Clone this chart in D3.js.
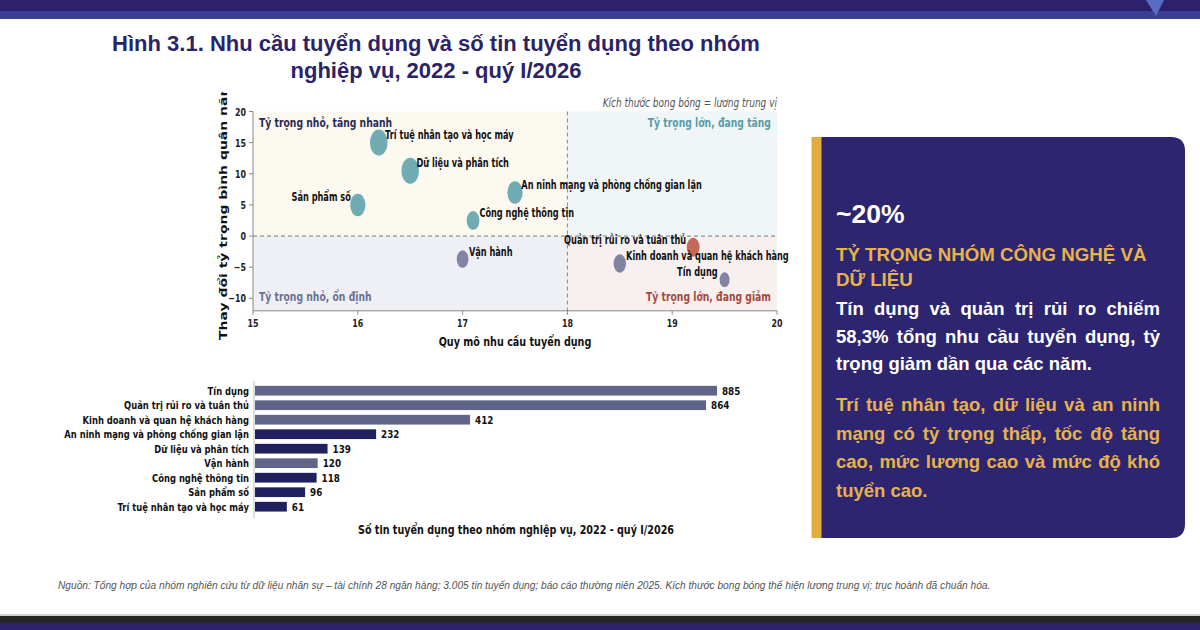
<!DOCTYPE html>
<html>
<head>
<meta charset="utf-8">
<script src="https://cdn.jsdelivr.net/npm/d3@7"></script>
<style>
  body { margin: 0; background: #fff; }
  svg { display: block; }
  .dv { font-family: "DejaVu Sans", sans-serif; font-weight: bold; }
  .ar { font-family: "Liberation Sans", Arial, sans-serif; font-weight: bold; }
</style>
</head>
<body>
<svg id="chart" width="1200" height="630"></svg>
<script>
// ---- bubble chart data ----
const groups = ["Trí tuệ nhân tạo và học máy", "Dữ liệu và phân tích", "An ninh mạng và phòng chống gian lận",
  "Sản phẩm số", "Công nghệ thông tin", "Vận hành", "Quản trị rủi ro và tuân thủ",
  "Kinh doanh và quan hệ khách hàng", "Tín dụng"];
const demandSize = [16.2, 16.5, 17.5, 16.0, 17.1, 17.0, 19.2, 18.5, 19.5];
const shareChange = [15, 10.5, 7, 5, 2.5, -3.7, -1.8, -4.4, -7];
const medianSalary = [40, 40, 30, 30, 21, 18, 21, 20, 13];
const groupType = ["tech", "tech", "tech", "tech", "tech", "core", "risk", "core", "core"];
const xTicks = [15, 16, 17, 18, 19, 20];
const yTicks = [-10, -5, 0, 5, 10, 15, 20];
const quadrantLabels = ["Tỷ trọng nhỏ, tăng nhanh", "Tỷ trọng lớn, đang tăng", "Tỷ trọng nhỏ, ổn định", "Tỷ trọng lớn, đang giảm"];

// ---- bar chart data ----
const barGroups = ["Tín dụng", "Quản trị rủi ro và tuân thủ", "Kinh doanh và quan hệ khách hàng",
  "An ninh mạng và phòng chống gian lận", "Dữ liệu và phân tích", "Vận hành", "Công nghệ thông tin",
  "Sản phẩm số", "Trí tuệ nhân tạo và học máy"];
const postings = [885, 864, 412, 232, 139, 120, 118, 96, 61];

// ---- side panel text ----
const bigNumber = "~20%";
const headline = ["TỶ TRỌNG NHÓM CÔNG NGHỆ VÀ", "DỮ LIỆU"];
const whiteLines = ["Tín dụng và quản trị rủi ro chiếm", "58,3% tổng nhu cầu tuyển dụng, tỷ", "trọng giảm dần qua các năm."];
const goldLines = ["Trí tuệ nhân tạo, dữ liệu và an ninh", "mạng có tỷ trọng thấp, tốc độ tăng", "cao, mức lương cao và mức độ khó", "tuyển cao."];

const titleLines = ["Hình 3.1. Nhu cầu tuyển dụng và số tin tuyển dụng theo nhóm", "nghiệp vụ, 2022 - quý I/2026"];
const sourceNote = "Nguồn: Tổng hợp của nhóm nghiên cứu từ dữ liệu nhân sự – tài chính 28 ngân hàng; 3.005 tin tuyển dụng; báo cáo thường niên 2025. Kích thước bong bóng thể hiện lương trung vị; trục hoành đã chuẩn hóa.";

const svg = d3.select("#chart");
const navy = "#2d216d";

// squeezed text, the chart image is narrower than its fonts
function sqText(parent, x, y, sx, str) {
  return parent.append("text")
    .attr("transform", `translate(${x},${y}) scale(${sx},1)`)
    .text(str);
}

// top and bottom bands
svg.append("rect").attr("x", 0).attr("y", 0).attr("width", 1200).attr("height", 11).attr("fill", navy);
svg.append("rect").attr("x", 0).attr("y", 11).attr("width", 1200).attr("height", 8).attr("fill", "#383f95");
svg.append("path").attr("d", "M1146,0 L1164,0 L1156,16 Z").attr("fill", "#5a6bc4");
svg.append("rect").attr("x", 0).attr("y", 614).attr("width", 1200).attr("height", 2).attr("fill", "#cfcfcf");
svg.append("rect").attr("x", 0).attr("y", 616).attr("width", 1200).attr("height", 7).attr("fill", "#262626");
svg.append("rect").attr("x", 0).attr("y", 623).attr("width", 1200).attr("height", 7).attr("fill", navy);

// title
svg.selectAll(".title").data(titleLines).join("text")
  .attr("class", "title ar")
  .attr("x", 436).attr("y", (d, i) => 51 + i * 27)
  .attr("text-anchor", "middle")
  .attr("font-size", 22)
  .attr("fill", "#2a2466")
  .text(d => d);

// ================= bubble chart =================
const sx = 0.72;
const x = d3.scaleLinear().domain([15, 20]).range([253, 777]);
const y = d3.scaleLinear().domain([-12, 20]).range([310.8, 111.5]);
const r = d3.scaleSqrt().domain([0, 40]).range([0, 8.8]);
const bubbleColor = { tech: "#69a8b1", core: "#7a7e9e", risk: "#c2604e" };

const sc = svg.append("g");
const quads = [
  { x0: 15, x1: 18, y0: 0, y1: 20, fill: "#fcf9f1" },
  { x0: 18, x1: 20, y0: 0, y1: 20, fill: "#f0f6f7" },
  { x0: 15, x1: 18, y0: -12, y1: 0, fill: "#eff0f5" },
  { x0: 18, x1: 20, y0: -12, y1: 0, fill: "#f7f0ef" }
];
sc.selectAll(".quad").data(quads).join("rect")
  .attr("x", d => x(d.x0)).attr("y", d => y(d.y1))
  .attr("width", d => x(d.x1) - x(d.x0)).attr("height", d => y(d.y0) - y(d.y1))
  .attr("fill", d => d.fill);

sc.append("line").attr("x1", x(15)).attr("x2", x(20)).attr("y1", y(0)).attr("y2", y(0))
  .attr("stroke", "#777").attr("stroke-width", 1).attr("stroke-dasharray", "4,3");
sc.append("line").attr("x1", x(18)).attr("x2", x(18)).attr("y1", y(20)).attr("y2", y(-12))
  .attr("stroke", "#888").attr("stroke-width", 1).attr("stroke-dasharray", "4,3");

// spines
sc.append("line").attr("x1", x(15)).attr("x2", x(15)).attr("y1", y(20)).attr("y2", y(-12)).attr("stroke", "#888");
sc.append("line").attr("x1", x(15)).attr("x2", x(20)).attr("y1", y(-12)).attr("y2", y(-12)).attr("stroke", "#888");

// ticks
const yt = sc.append("g").attr("class", "dv").attr("font-size", 11).attr("fill", "#222");
yTicks.forEach(t => {
  yt.append("line").attr("x1", x(15) - 4).attr("x2", x(15)).attr("y1", y(t)).attr("y2", y(t)).attr("stroke", "#888");
  sqText(yt, x(15) - 7, y(t) + 4, sx, t < 0 ? "\u2212" + Math.abs(t) : t).attr("text-anchor", "end");
});
const xt = sc.append("g").attr("class", "dv").attr("font-size", 11).attr("fill", "#222");
xTicks.forEach(t => {
  xt.append("line").attr("x1", x(t)).attr("x2", x(t)).attr("y1", y(-12)).attr("y2", y(-12) + 4).attr("stroke", "#888");
  sqText(xt, x(t), 326.5, sx, t).attr("text-anchor", "middle");
});

// axis labels
sqText(sc, 515, 346, 0.74, "Quy mô nhu cầu tuyển dụng")
  .attr("class", "dv").attr("font-size", 13).attr("text-anchor", "middle").attr("fill", "#111");
svg.append("clipPath").attr("id", "ylab").append("rect").attr("x", 200).attr("y", 92).attr("width", 40).attr("height", 260);
sc.append("g").attr("clip-path", "url(#ylab)").append("text")
  .attr("class", "dv").attr("font-size", 14).attr("fill", "#111").attr("text-anchor", "middle")
  .attr("transform", `translate(227,211) scale(0.74,1) rotate(-90)`)
  .text("Thay đổi tỷ trọng bình quân năm");

// notes and quadrant labels
sqText(sc, 777, 107, sx, "Kích thước bong bóng = lương trung vị")
  .attr("font-family", "DejaVu Sans").attr("font-style", "italic").attr("font-size", 12.5)
  .attr("text-anchor", "end").attr("fill", "#555");
const qPos = [
  { x: 259, y: 127, anchor: "start", fill: "#2a2b55" },
  { x: 771, y: 127, anchor: "end", fill: "#5a9ca5" },
  { x: 259, y: 301, anchor: "start", fill: "#6c7090" },
  { x: 771, y: 301, anchor: "end", fill: "#a8483c" }
];
quadrantLabels.forEach((t, i) => {
  sqText(sc, qPos[i].x, qPos[i].y, 0.74, t)
    .attr("class", "dv").attr("font-size", 12.5)
    .attr("text-anchor", qPos[i].anchor).attr("fill", qPos[i].fill);
});

// bubbles
const pts = groups.map((g, i) => ({ name: g, vx: demandSize[i], vy: shareChange[i], s: medianSalary[i], type: groupType[i] }));
sc.selectAll(".bub").data(pts).join("ellipse")
  .attr("cx", d => x(d.vx)).attr("cy", d => y(d.vy))
  .attr("rx", d => r(d.s)).attr("ry", d => r(d.s) * 1.48)
  .attr("fill", d => bubbleColor[d.type]).attr("opacity", 0.95);

// labels on the left of the bubble for these ones
const leftLabels = ["Sản phẩm số", "Quản trị rủi ro và tuân thủ", "Tín dụng"];
pts.forEach(d => {
  const left = leftLabels.includes(d.name);
  sqText(sc, x(d.vx) + (left ? -7 : 6.3), y(d.vy) - 3.5, sx, d.name)
    .attr("class", "dv").attr("font-size", 11.4).attr("fill", "#111")
    .attr("text-anchor", left ? "end" : "start");
});

// ================= bar chart =================
const bsx = 0.8;
const bx = d3.scaleLinear().domain([0, 885]).range([255, 717]);
const by = d3.scaleBand().domain(barGroups).range([383.45, 513.95]).paddingInner(0.33).paddingOuter(0.165);
const techBars = ["An ninh mạng và phòng chống gian lận", "Dữ liệu và phân tích", "Công nghệ thông tin", "Sản phẩm số", "Trí tuệ nhân tạo và học máy"];
const bars = barGroups.map((g, i) => ({ name: g, v: postings[i] }));

const bc = svg.append("g");
bc.selectAll(".bar").data(bars).join("rect")
  .attr("x", bx(0)).attr("y", d => by(d.name))
  .attr("width", d => bx(d.v) - bx(0)).attr("height", by.bandwidth())
  .attr("fill", d => techBars.includes(d.name) ? "#1f205d" : "#5e6589");
bc.append("line").attr("x1", 254).attr("x2", 254).attr("y1", 381).attr("y2", 518).attr("stroke", "#bbb");

bars.forEach(d => {
  const cy = by(d.name) + by.bandwidth() / 2;
  sqText(bc, 249, cy + 3.9, bsx, d.name)
    .attr("class", "dv").attr("font-size", 10.5).attr("text-anchor", "end").attr("fill", "#111");
  sqText(bc, bx(d.v) + 5, cy + 4.1, bsx, d.v)
    .attr("class", "dv").attr("font-size", 11).attr("fill", "#111");
});
sqText(bc, 516, 534, 0.78, "Số tin tuyển dụng theo nhóm nghiệp vụ, 2022 - quý I/2026")
  .attr("class", "dv").attr("font-size", 12.3).attr("text-anchor", "middle").attr("fill", "#111");

// ================= side panel =================
const panel = svg.append("g");
panel.append("path")
  .attr("d", "M821,137 H1171 Q1185,137 1185,151 V524 Q1185,538 1171,538 H821 Z")
  .attr("fill", "#2e2571");
panel.append("rect").attr("x", 811.5).attr("y", 137).attr("width", 10).attr("height", 401).attr("fill", "#e2ad3e");

panel.append("text").attr("class", "ar").attr("x", 836).attr("y", 223)
  .attr("font-size", 26.5).attr("fill", "#fff").text(bigNumber);
panel.selectAll(".hl").data(headline).join("text")
  .attr("class", "hl ar").attr("x", 836).attr("y", (d, i) => 261 + i * 25)
  .attr("font-size", 18.7).attr("fill", "#e6b24a").text(d => d);

// justified lines, last line of each paragraph left as is
function para(lines, y0, step, fill) {
  lines.forEach((line, i) => {
    const t = panel.append("text").attr("class", "ar").attr("font-size", 18.5)
      .attr("fill", fill).attr("y", y0 + i * step);
    const words = line.split(" ");
    if (i === lines.length - 1) { t.attr("x", 836).text(line); return; }
    const spans = words.map(w => t.append("tspan").text(w));
    const widths = spans.map(s => s.node().getComputedTextLength());
    const gap = (1160 - 836 - d3.sum(widths)) / (words.length - 1);
    let cx = 836;
    spans.forEach((s, k) => { s.attr("x", cx); cx += widths[k] + gap; });
  });
}
para(whiteLines, 315, 27.5, "#fff");
para(goldLines, 411, 28.6, "#e6b24a");

// source
svg.append("text").attr("transform", "translate(58,589) scale(0.9,1)")
  .attr("font-family", "Liberation Sans, Arial, sans-serif").attr("font-style", "italic")
  .attr("font-size", 11.3).attr("fill", "#555").text(sourceNote);
</script>
</body>
</html>
